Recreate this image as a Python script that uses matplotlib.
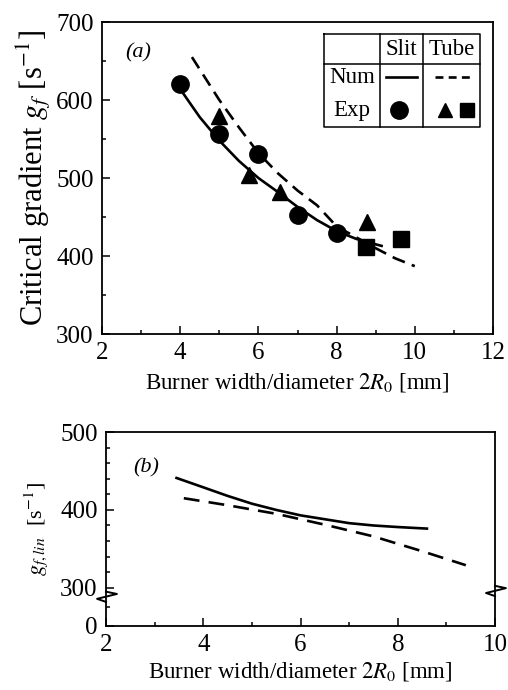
import numpy as np
import matplotlib.pyplot as plt
from matplotlib.ticker import MultipleLocator, FixedLocator

plt.rcParams["font.family"] = ["Liberation Serif", "DejaVu Serif"]
plt.rcParams["mathtext.fontset"] = "stix"

# ---- panel (a) data ----
slit_exp_x = [4.0, 5.0, 6.0, 7.0, 8.0]
slit_exp_y = [621, 556, 531, 452, 430]
tube_tri_x = [5.0, 5.76, 6.55, 8.78]
tube_tri_y = [580, 504, 482, 443]
tube_sq_x = [8.75, 9.65]
tube_sq_y = [412, 422]
slit_num_x = [3.9, 4.0, 4.5, 5.0, 5.5, 6.0, 6.5, 7.0, 7.5, 8.0, 8.5, 9.0, 9.15]
slit_num_y = [622, 614, 578, 548, 522, 500, 482, 463, 446, 432, 422, 415, 413]
tube_num_x = [4.3, 5.0, 5.5, 6.0, 6.5, 7.0, 7.5, 8.0, 8.5, 9.0, 9.5, 10.0]
tube_num_y = [655, 600, 565, 532, 506, 484, 465, 438, 424, 410, 397, 387]

# ---- panel (b) data ----
slit_lin_x = [3.45, 4.0, 4.5, 5.0, 5.5, 6.0, 6.5, 7.0, 7.5, 8.0, 8.6]
slit_lin_y = [441, 429, 418, 408, 400, 393, 388, 383, 380, 378, 376]
tube_lin_x = [3.6, 4.5, 5.5, 6.5, 7.5, 8.5, 9.4]
tube_lin_y = [415, 406, 395, 381, 366, 347, 329]

fig = plt.figure(figsize=(5.08, 6.9), dpi=100)
ax1 = fig.add_axes([0.2008, 0.5159, 0.7697, 0.4522])
ax2 = fig.add_axes([0.2087, 0.0928, 0.7657, 0.2811])

# ===== (a) =====
ax1.plot(slit_num_x, slit_num_y, color="black", lw=1.9)
ax1.plot(tube_num_x, tube_num_y, color="black", lw=1.9, linestyle=(0, (5, 2.8)))
ax1.plot(slit_exp_x, slit_exp_y, "o", color="black", ms=12.5)
ax1.plot(tube_tri_x, tube_tri_y, "^", color="black", ms=11.5)
ax1.plot(tube_sq_x, tube_sq_y, "s", color="black", ms=11.5)

ax1.set_xlim(2, 12)
ax1.set_ylim(300, 700)
ax1.xaxis.set_major_locator(MultipleLocator(2))
ax1.xaxis.set_minor_locator(MultipleLocator(1))
ax1.yaxis.set_major_locator(MultipleLocator(100))
ax1.yaxis.set_minor_locator(MultipleLocator(50))
ax1.set_xlabel(r"Burner width/diameter $2R_0$ [mm]", fontsize=16.5, labelpad=5)
ax1.set_ylabel(r"Critical gradient $g_f$ [s$^{\mathrm{-1}}$]", fontsize=22, labelpad=2)
ax1.text(0.06, 0.885, "(a)", transform=ax1.transAxes, fontsize=16, style="italic")

# legend table drawn in axes coordinates
tx0, tx1, tx2, tx3 = 0.568, 0.711, 0.821, 0.967
ty0, ty1, ty2 = 0.962, 0.865, 0.663
kw = dict(transform=ax1.transAxes, color="black", lw=1.1, clip_on=False)
ax1.plot([tx0, tx3, tx3, tx0, tx0], [ty0, ty0, ty2, ty2, ty0], **kw)
ax1.plot([tx0, tx3], [ty1, ty1], **kw)
ax1.plot([tx1, tx1], [ty0, ty2], **kw)
ax1.plot([tx2, tx2], [ty0, ty2], **kw)
lab = dict(transform=ax1.transAxes, fontsize=16.5, ha="center", va="center")
ax1.text(0.766, 0.913, "Slit", **lab)
ax1.text(0.894, 0.913, "Tube", **lab)
ax1.text(0.639, 0.822, "Num", **lab)
ax1.text(0.639, 0.716, "Exp", **lab)
ax1.plot([0.726, 0.806], [0.825, 0.825], transform=ax1.transAxes, color="black", lw=1.9)
ax1.plot([0.852, 0.949], [0.825, 0.825], transform=ax1.transAxes, color="black", lw=1.9,
         linestyle=(0, (3, 2)))
ax1.plot([0.760], [0.718], "o", transform=ax1.transAxes, color="black", ms=12.5)
ax1.plot([0.876], [0.718], "^", transform=ax1.transAxes, color="black", ms=10.5)
ax1.plot([0.933], [0.718], "s", transform=ax1.transAxes, color="black", ms=10.5)

# ===== (b) =====
ax2.plot(slit_lin_x, slit_lin_y, color="black", lw=1.9)
ax2.plot(tube_lin_x, tube_lin_y, color="black", lw=1.9, linestyle=(0, (6, 3.5)))
ax2.set_xlim(2, 10)
ax2.set_ylim(251, 500)
ax2.xaxis.set_major_locator(MultipleLocator(2))
ax2.xaxis.set_minor_locator(MultipleLocator(1))
ax2.yaxis.set_major_locator(FixedLocator([251, 300, 400, 500]))
ax2.yaxis.set_minor_locator(FixedLocator([320, 340, 360, 380, 420, 440, 460, 480, 275]))
ax2.set_yticklabels(["0", "300", "400", "500"])
ax2.set_xlabel(r"Burner width/diameter $2R_0$ [mm]", fontsize=16.5, labelpad=3)
ax2.set_ylabel(r"$g_{f,lin}$  [s$^{\mathrm{-1}}$]", fontsize=16, labelpad=7)
ax2.text(0.07, 0.79, "(b)", transform=ax2.transAxes, fontsize=16, style="italic")

# axis break marks (in axes coordinates)
zx = [0.0, 0.028, -0.023, 0.0]
zy = [0.177, 0.165, 0.140, 0.124]
ax2.plot(zx, zy, transform=ax2.transAxes, color="black", lw=1.4, clip_on=False)
ax2.plot([1 + v for v in zx], [v + 0.03 for v in zy], transform=ax2.transAxes,
         color="black", lw=1.4, clip_on=False)

for ax in (ax1, ax2):
    ax.tick_params(which="both", direction="in", top=False, right=False)
    ax.tick_params(which="major", length=6, width=1.1, labelsize=18, pad=6)
    ax.tick_params(which="minor", length=3, width=1.1)
    for s in ax.spines.values():
        s.set_linewidth(1.3)

fig.savefig("out.png", dpi=100)
